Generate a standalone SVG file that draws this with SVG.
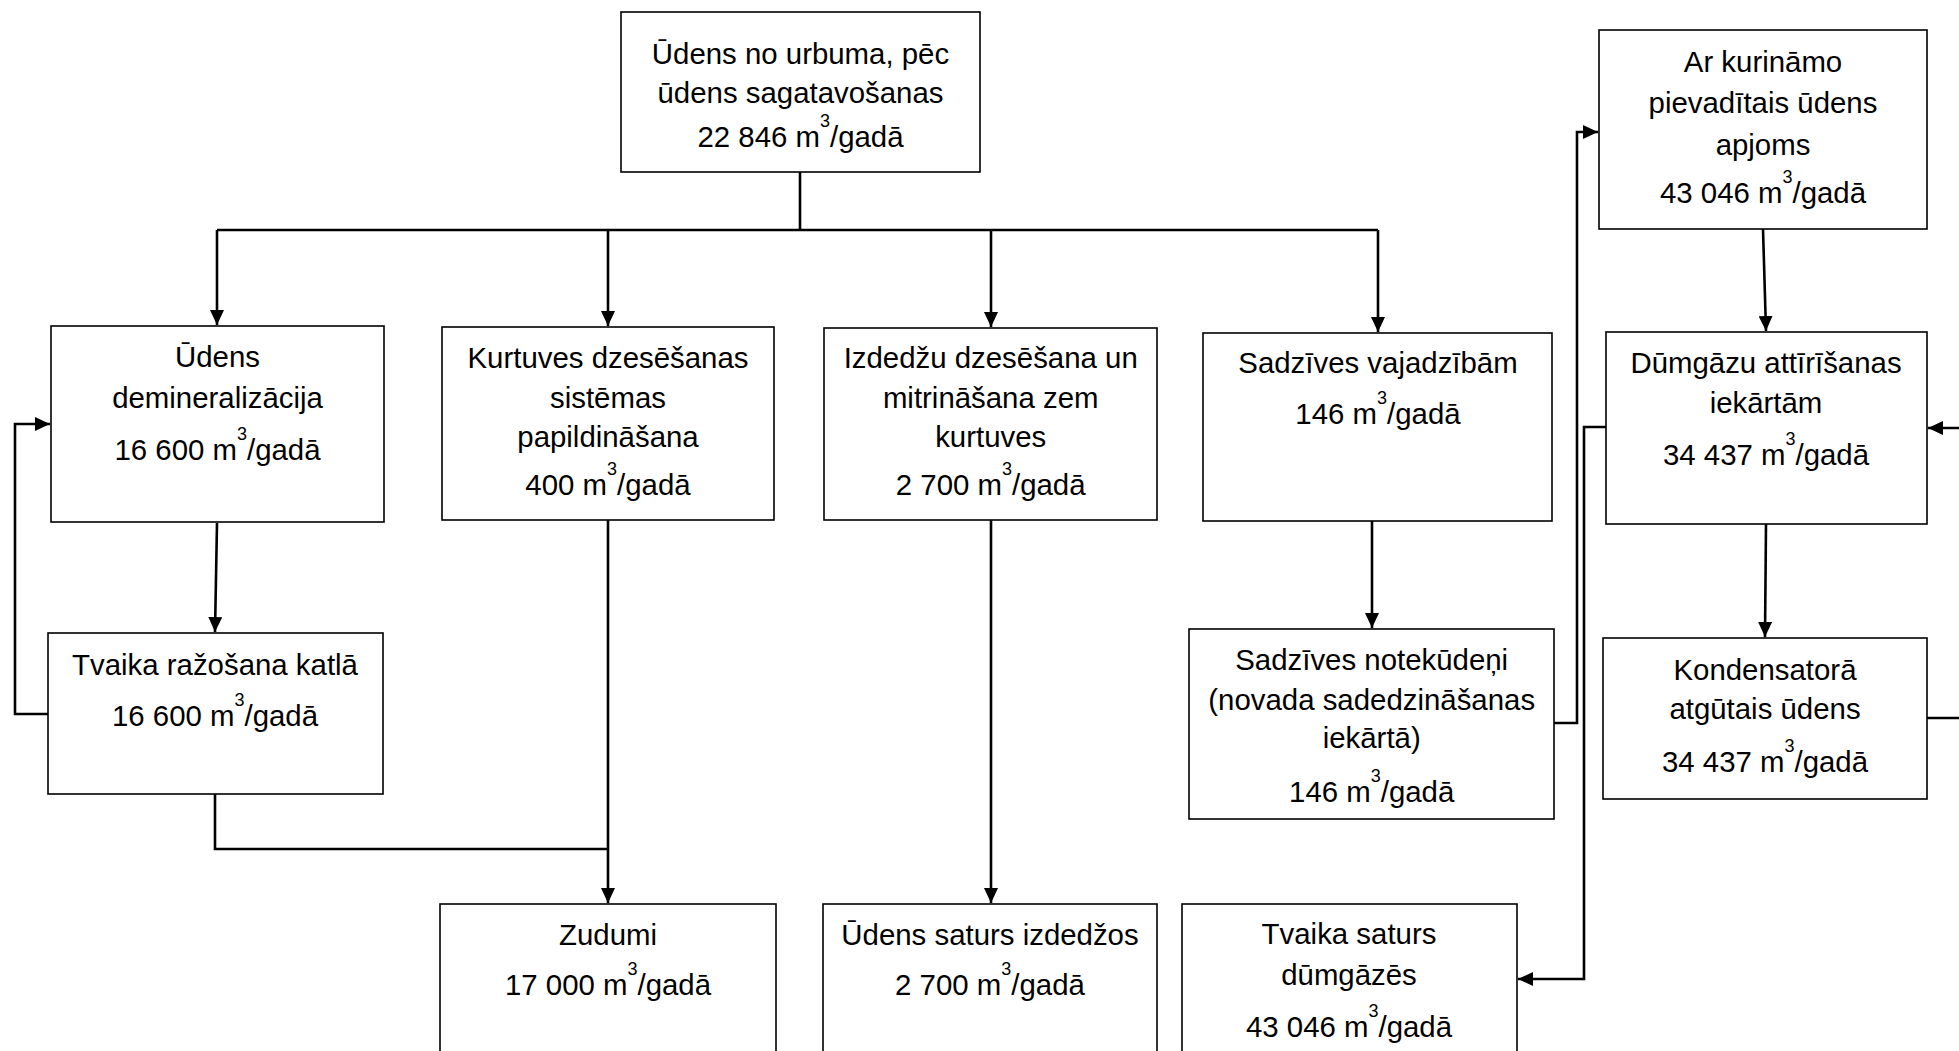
<svg xmlns="http://www.w3.org/2000/svg" width="1959" height="1051" viewBox="0 0 1959 1051">
<style>
.box{fill:#fff;stroke:#000;stroke-width:1.6}
.t{font-family:"Liberation Sans",Arial,sans-serif;font-size:29.4px;fill:#000;text-anchor:middle}
.s{font-size:18px}
.c{fill:none;stroke:#000;stroke-width:2.6}
</style>
<defs>
<marker id="ah" markerUnits="userSpaceOnUse" markerWidth="16" markerHeight="14" refX="15" refY="7" orient="auto">
<path d="M0,0 L15,7 L0,14 z" fill="#000"/>
</marker>
</defs>
<rect width="1959" height="1051" fill="#fff"/>
<g id="connectors">
<path class="c" d="M800,172 V230"/>
<path class="c" d="M217,230 H1378"/>
<path class="c" d="M217,230 V325" marker-end="url(#ah)"/>
<path class="c" d="M608,230 V326" marker-end="url(#ah)"/>
<path class="c" d="M991,230 V327" marker-end="url(#ah)"/>
<path class="c" d="M1378,230 V332" marker-end="url(#ah)"/>
<path class="c" d="M217,523 L215,632" marker-end="url(#ah)"/>
<path class="c" d="M48,714 H15 V424 H50" marker-end="url(#ah)"/>
<path class="c" d="M215,794 V849 H608"/>
<path class="c" d="M608,520 V903" marker-end="url(#ah)"/>
<path class="c" d="M991,520 V903" marker-end="url(#ah)"/>
<path class="c" d="M1372,521 V628" marker-end="url(#ah)"/>
<path class="c" d="M1554,723 H1577 V132 H1598" marker-end="url(#ah)"/>
<path class="c" d="M1763,229 L1766,331" marker-end="url(#ah)"/>
<path class="c" d="M1606,427 H1584 V979 H1518" marker-end="url(#ah)"/>
<path class="c" d="M1766,524 L1765,637" marker-end="url(#ah)"/>
<path class="c" d="M1927,718 H1975 V428 H1928" marker-end="url(#ah)"/>
</g>
<g id="n-top">
<rect class="box" x="621" y="12" width="359" height="160"/>
<text class="t" x="800.5" y="64">Ūdens no urbuma, pēc</text>
<text class="t" x="800.5" y="103">ūdens sagatavošanas</text>
<text class="t" x="800.5" y="147">22 846 m<tspan class="s" dy="-20">3</tspan><tspan dy="20">/gadā</tspan></text>
</g>
<g id="n-demin">
<rect class="box" x="51" y="326" width="333" height="196"/>
<text class="t" x="217.5" y="367">Ūdens</text>
<text class="t" x="217.5" y="408">demineralizācija</text>
<text class="t" x="217.5" y="460">16 600 m<tspan class="s" dy="-20">3</tspan><tspan dy="20">/gadā</tspan></text>
</g>
<g id="n-tvaika">
<rect class="box" x="48" y="633" width="335" height="161"/>
<text class="t" x="215" y="675">Tvaika ražošana katlā</text>
<text class="t" x="215" y="726">16 600 m<tspan class="s" dy="-20">3</tspan><tspan dy="20">/gadā</tspan></text>
</g>
<g id="n-kurtuves">
<rect class="box" x="442" y="327" width="332" height="193"/>
<text class="t" x="608" y="368">Kurtuves dzesēšanas</text>
<text class="t" x="608" y="408">sistēmas</text>
<text class="t" x="608" y="447">papildināšana</text>
<text class="t" x="608" y="495">400 m<tspan class="s" dy="-20">3</tspan><tspan dy="20">/gadā</tspan></text>
</g>
<g id="n-izdedzu">
<rect class="box" x="824" y="328" width="333" height="192"/>
<text class="t" x="990.7" y="368">Izdedžu dzesēšana un</text>
<text class="t" x="990.7" y="408">mitrināšana zem</text>
<text class="t" x="990.7" y="447">kurtuves</text>
<text class="t" x="990.7" y="495">2 700 m<tspan class="s" dy="-20">3</tspan><tspan dy="20">/gadā</tspan></text>
</g>
<g id="n-sadzives">
<rect class="box" x="1203" y="333" width="349" height="188"/>
<text class="t" x="1378" y="373">Sadzīves vajadzībām</text>
<text class="t" x="1378" y="424">146 m<tspan class="s" dy="-20">3</tspan><tspan dy="20">/gadā</tspan></text>
</g>
<g id="n-kurinamo">
<rect class="box" x="1599" y="30" width="328" height="199"/>
<text class="t" x="1763" y="72">Ar kurināmo</text>
<text class="t" x="1763" y="113">pievadītais ūdens</text>
<text class="t" x="1763" y="155">apjoms</text>
<text class="t" x="1763" y="203">43 046 m<tspan class="s" dy="-20">3</tspan><tspan dy="20">/gadā</tspan></text>
</g>
<g id="n-dumgazu">
<rect class="box" x="1606" y="332" width="321" height="192"/>
<text class="t" x="1766" y="373">Dūmgāzu attīrīšanas</text>
<text class="t" x="1766" y="413">iekārtām</text>
<text class="t" x="1766" y="465">34 437 m<tspan class="s" dy="-20">3</tspan><tspan dy="20">/gadā</tspan></text>
</g>
<g id="n-kondensatora">
<rect class="box" x="1603" y="638" width="324" height="161"/>
<text class="t" x="1765" y="680">Kondensatorā</text>
<text class="t" x="1765" y="719">atgūtais ūdens</text>
<text class="t" x="1765" y="772">34 437 m<tspan class="s" dy="-20">3</tspan><tspan dy="20">/gadā</tspan></text>
</g>
<g id="n-notekudeni">
<rect class="box" x="1189" y="629" width="365" height="190"/>
<text class="t" x="1371.7" y="670">Sadzīves notekūdeņi</text>
<text class="t" x="1371.7" y="710">(novada sadedzināšanas</text>
<text class="t" x="1371.7" y="748">iekārtā)</text>
<text class="t" x="1371.7" y="802">146 m<tspan class="s" dy="-20">3</tspan><tspan dy="20">/gadā</tspan></text>
</g>
<g id="n-zudumi">
<rect class="box" x="440" y="904" width="336" height="200"/>
<text class="t" x="608" y="945">Zudumi</text>
<text class="t" x="608" y="995">17 000 m<tspan class="s" dy="-20">3</tspan><tspan dy="20">/gadā</tspan></text>
</g>
<g id="n-izdedzos">
<rect class="box" x="823" y="904" width="334" height="200"/>
<text class="t" x="990" y="945">Ūdens saturs izdedžos</text>
<text class="t" x="990" y="995">2 700 m<tspan class="s" dy="-20">3</tspan><tspan dy="20">/gadā</tspan></text>
</g>
<g id="n-dumgazes">
<rect class="box" x="1182" y="904" width="335" height="200"/>
<text class="t" x="1349" y="944">Tvaika saturs</text>
<text class="t" x="1349" y="985">dūmgāzēs</text>
<text class="t" x="1349" y="1037">43 046 m<tspan class="s" dy="-20">3</tspan><tspan dy="20">/gadā</tspan></text>
</g>
</svg>
